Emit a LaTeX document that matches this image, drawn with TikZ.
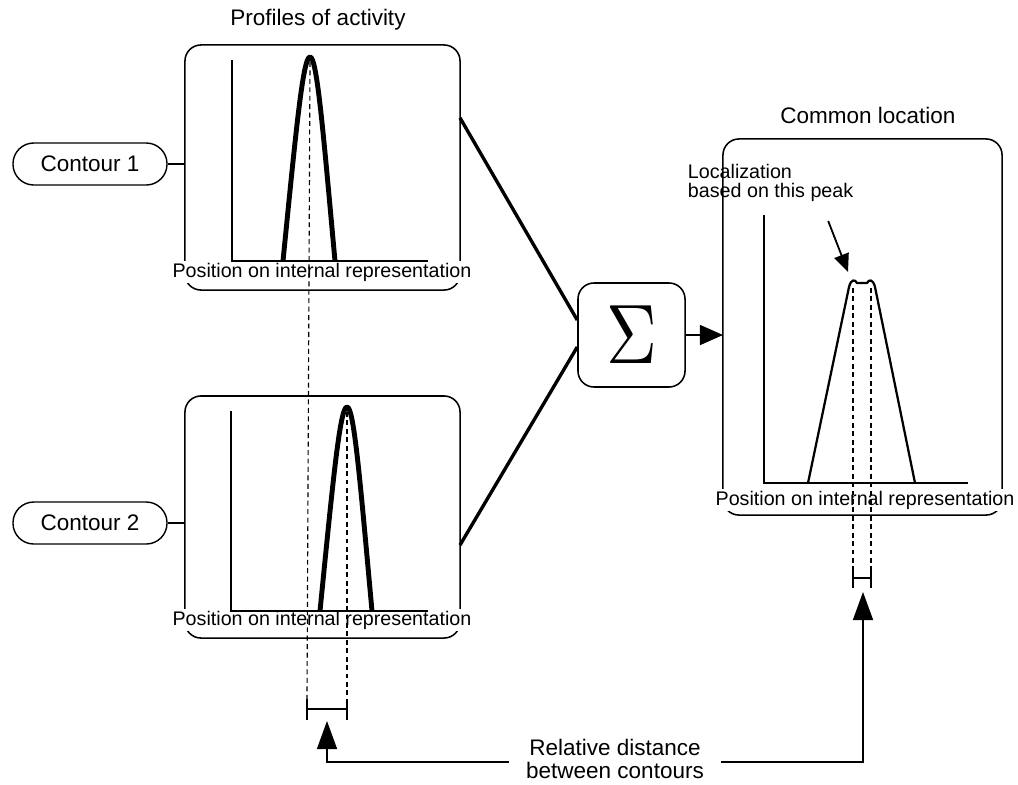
\documentclass[tikz,border=0pt]{standalone}
\usepackage{fontspec}
\setmainfont{Liberation Sans}
\usetikzlibrary{arrows.meta,calc}

\begin{document}
\begin{tikzpicture}[x=0.025cm,y=-0.025cm,
    panel/.style={draw,line width=1.1pt,rounded corners=0.4cm,inner sep=0pt,outer sep=0pt},
    contour/.style={draw,line width=1pt,rounded corners=0.52cm,minimum width=3.85cm,
        minimum height=1.05cm,font={\fontsize{16}{18}\selectfont}},
    title/.style={font={\fontsize{16}{18}\selectfont}},
    axlbl/.style={fill=white,inner sep=1pt,font={\fontsize{14}{16}\selectfont}},
    axis/.style={line width=1pt},
    peak/.style={line width=3.5pt,line join=round},
    guide/.style={line width=0.8pt,dash pattern=on 3.5pt off 2.5pt},
    tick/.style={line width=1.1pt},
    feed/.style={line width=2.4pt},
    bigarrow/.style={line width=1.1pt,-{Triangle[length=0.7cm,width=0.5cm]}},
    ]
    \useasboundingbox (0,0) rectangle (1018,784);

    % Titles
    \node[title] (ttl1) at (318,20) {Profiles of activity};
    \node[title] (ttl3) at (868,115) {Common location};

    % Panels
    \node[panel,minimum width=6.875cm,minimum height=6.125cm] (p1) at (322.5,167.5) {};
    \node[panel,minimum width=6.875cm,minimum height=6.05cm] (p2) at (322.5,517) {};
    \node[panel,minimum width=6.975cm,minimum height=9.4cm] (p3) at (862.5,327) {};

    % Axis labels
    \node[axlbl] (lb1) at (322,272) {Position on internal representation};
    \node[axlbl] (lb2) at (322,620) {Position on internal representation};
    \node[axlbl] (lb3) at (865,500) {Position on internal representation};

    % Axes
    \draw[axis] (232,60) -- (232,261) -- (428,261);
    \draw[axis] (231,411) -- (231,611) -- (428,611);
    \draw[axis] (764,215) -- (764,483) -- (968,483);

    % Peaks
    \draw[peak] (283,261) .. controls (296,130) and (303,57) .. (310,57)
        .. controls (317,57) and (323,130) .. (335,261);
    \draw[peak,shift={(37,350)}] (283,261) .. controls (296,130) and (303,57) .. (310,57)
        .. controls (317,57) and (323,130) .. (335,261);
    \draw[line width=1.6pt,line join=round] (808,483) -- (849,287)
        .. controls (851,279) and (855,279) .. (857,283) -- (867,283)
        .. controls (869,279) and (873,279) .. (875,287) -- (915,483);

    % Brackets
    \coordinate (lbrL) at (307,709);
    \coordinate (lbrR) at (347,709);
    \coordinate (rbrL) at (853,578);
    \coordinate (rbrR) at (871,578);
    \draw[tick] (lbrL) -- (lbrR);
    \draw[tick] (lbrL) ++(0,-10) -- ++(0,21);
    \draw[tick] (lbrR) ++(0,-10) -- ++(0,21);
    \draw[tick] (rbrL) -- (rbrR);
    \draw[tick] (rbrL) ++(0,-10) -- ++(0,20);
    \draw[tick] (rbrR) ++(0,-10) -- ++(0,20);

    % Dashed guides
    \draw[guide] (310,62) -- ([yshift=0.25cm]lbrL);
    \draw[guide] (347,412) -- ([yshift=0.25cm]lbrR);
    \draw[guide] (853,288) -- ([yshift=0.25cm]rbrL);
    \draw[guide] (871,288) -- ([yshift=0.25cm]rbrR);

    % Contours
    \node[contour] (c1) at (90,164) {Contour 1};
    \node[contour] (c2) at (90,523) {Contour 2};
    \draw[line width=1pt] (c1.east) -- (c1.east -| p1.west);
    \draw[line width=1pt] (c2.east) -- (c2.east -| p2.west);

    % Sum
    \node[draw,line width=1.1pt,rounded corners=0.4cm,minimum width=2.675cm,minimum height=2.6cm]
        (sig) at (631.5,335) {\scalebox{5}[6]{$\Sigma$}};
    \draw[feed] ([yshift=1.24cm]p1.east) -- ([yshift=0.375cm]sig.west);
    \draw[feed] ([yshift=-0.7cm]p2.east) -- ([yshift=-0.3cm]sig.west);
    \draw[line width=1.1pt,-{Triangle[length=0.575cm,width=0.5cm]}] (sig.east) -- (sig.east -| p3.west);

    % Localization pointer
    \node[anchor=west,align=left,font={\fontsize{14}{14}\selectfont}] (loc) at (683,183)
        {Localization\\based on this peak};
    \coordinate (peakpt) at (848,272);
    \draw[line width=1.3pt,-{Triangle[length=0.45cm,width=0.38cm]}]
        ([xshift=-0.75cm,yshift=-0.35cm]loc.south east) -- (peakpt);

    % Relative distance
    \node[font={\fontsize{16}{16.5}\selectfont},align=center,inner xsep=12pt,inner ysep=1pt]
        (rel) at (615,759) {Relative distance\\between contours};
    \coordinate (ltip) at (327,721);
    \coordinate (rtip) at (863,592);
    \draw[bigarrow] ([yshift=-0.08cm]rel.west) -| (ltip);
    \draw[bigarrow] ([yshift=-0.08cm]rel.east) -| (rtip);

\end{tikzpicture}
\end{document}
